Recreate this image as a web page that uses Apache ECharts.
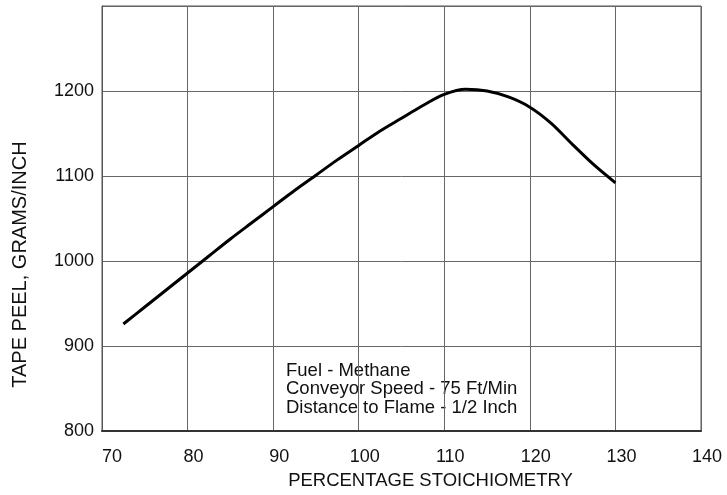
<!DOCTYPE html>
<html>
<head>
<meta charset="utf-8">
<script src="https://cdn.jsdelivr.net/npm/echarts@6/dist/echarts.min.js"></script>
<style>
  html, body { margin: 0; padding: 0; background: #fff; }
  #chart { width: 727px; height: 495px; }
</style>
</head>
<body>
<div id="chart"></div>
<script>
// stoichiometry (%) and tape peel (g/inch)
var stoich = [72.5, 75, 77.5, 80, 82.5, 85, 87.5, 90, 92.5, 95, 97.5, 100, 102.5, 105, 107.5, 110, 112.5, 115, 117.5, 120, 122.5, 125, 127.5, 130];
var peel = [926, 946, 966, 986, 1006, 1026, 1045, 1064, 1083, 1101, 1119, 1136, 1153, 1168, 1183, 1196, 1202, 1200, 1193, 1181, 1162, 1137, 1113, 1092];
var notes = ['Fuel - Methane', 'Conveyor Speed - 75 Ft/Min', 'Distance to Flame - 1/2 Inch'];

var pts = [];
for (var i = 0; i < stoich.length; i++) {
    pts.push([stoich[i], peel[i]]);
}

var font = 'Liberation Sans, Arial, sans-serif';
var myChart = echarts.init(document.getElementById('chart'));
var option = {
    animation: false,
    backgroundColor: '#fff',
    grid: {
        left: 102, right: 26, top: 6, bottom: 59,
        show: true, borderColor: '#555', borderWidth: 1
    },
    xAxis: {
        type: 'value',
        min: 70, max: 140, interval: 10,
        name: 'PERCENTAGE STOICHIOMETRY',
        nameLocation: 'middle',
        nameGap: 37,
        nameTextStyle: { color: '#111', fontSize: 18.5, fontFamily: font, padding: [0, 0, 0, 58] },
        axisLine: { show: true, lineStyle: { color: '#333', width: 2 } },
        axisTick: { show: false },
        axisLabel: {
            color: '#111', fontSize: 18, fontFamily: font, margin: 17,
            formatter: function (v) { return v === 70 ? '{f|' + v + '}' : '{n|' + v + '}'; },
            rich: {
                f: { fontSize: 18, fontFamily: font, color: '#111', padding: [0, 0, 0, 20] },
                n: { fontSize: 18, fontFamily: font, color: '#111', padding: [0, 0, 0, 12] }
            }
        },
        splitLine: { show: true, lineStyle: { color: '#666', width: 1 } }
    },
    yAxis: {
        type: 'value',
        min: 800, max: 1300, interval: 100,
        name: 'TAPE PEEL, GRAMS/INCH',
        nameLocation: 'middle',
        nameGap: 72,
        nameRotate: 90,
        nameTextStyle: { color: '#111', fontSize: 20, fontFamily: font, padding: [0, 92, 0, 0] },
        axisLine: { show: true, lineStyle: { color: '#555', width: 1 } },
        axisTick: { show: false },
        axisLabel: {
            color: '#111', fontSize: 18, fontFamily: font, margin: 8,
            formatter: function (v) { return v === 1300 ? '' : v; }
        },
        splitLine: { show: true, lineStyle: { color: '#666', width: 1 } }
    },
    series: [{
        type: 'line',
        data: pts,
        smooth: 0.3,
        symbol: 'none',
        lineStyle: { color: '#000', width: 3 }
    }],
    graphic: [{
        type: 'text',
        left: 286,
        top: 361,
        style: {
            text: notes.join('\n'),
            fill: '#111',
            font: '18.5px ' + font,
            lineHeight: 18.5
        }
    }]
};
myChart.setOption(option);
</script>
</body>
</html>
